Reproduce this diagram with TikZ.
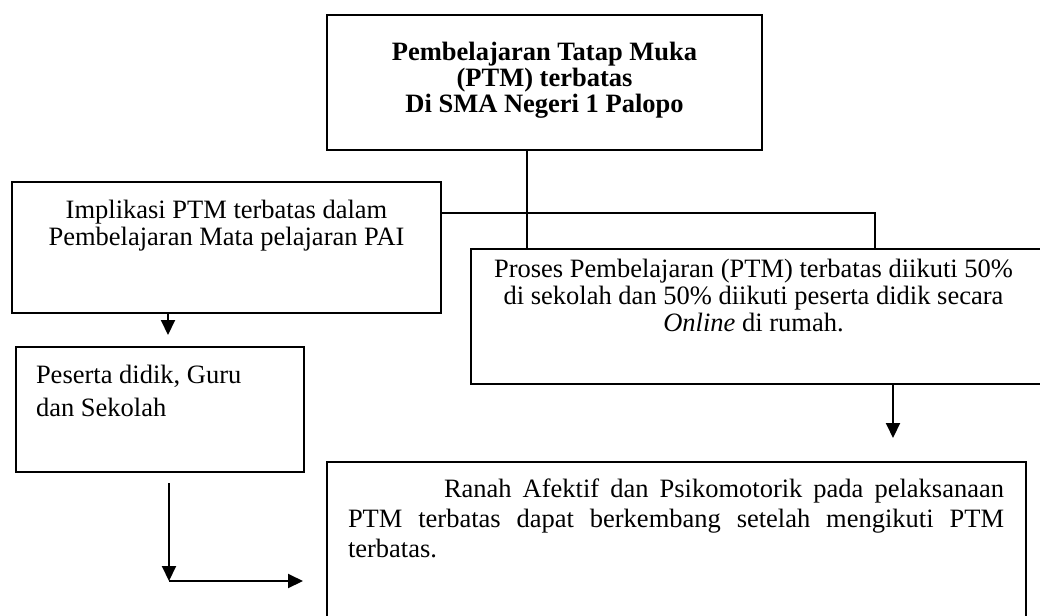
\documentclass[tikz,border=0pt]{standalone}
\usepackage{fontspec}
\setmainfont{Liberation Serif}
\usetikzlibrary{arrows.meta}
\begin{document}
\begin{tikzpicture}[x=1pt,y=-1pt,
  box/.style={draw, line width=2pt, inner sep=0pt, outer sep=0pt, anchor=north west},
  conn/.style={line width=2pt},
  arr/.style={conn, -{Triangle[width=14pt,length=15pt]}},
  txt/.style={inner sep=0pt, outer sep=0pt, font=\fontsize{26.5}{27}\selectfont}]
\useasboundingbox (0,0) rectangle (1040,615);
\clip (0,0) rectangle (1040,615);
% boxes
\node[box, minimum width=435pt, minimum height=135pt] (top) at (327,15) {};
\node[box, minimum width=429pt, minimum height=131pt] (imp) at (12,182) {};
\node[box, minimum width=590pt, minimum height=135pt] (pro) at (471,249) {};
\node[box, minimum width=288pt, minimum height=125pt] (pes) at (16,347) {};
\node[box, minimum width=699pt, minimum height=190pt] (ran) at (327,462) {};
% texts
\node[txt, anchor=north, align=center, font=\fontsize{26.5}{26}\selectfont\bfseries] (toptxt) at (544.5,41)
  {\rule{0pt}{20pt}Pembelajaran Tatap Muka\\(PTM) terbatas\\Di SMA Negeri 1 Palopo};
\node[txt, anchor=north, align=center] (imptxt) at (226.5,198)
  {\rule{0pt}{20pt}Implikasi PTM terbatas dalam\\Pembelajaran Mata pelajaran PAI};
\node[txt, anchor=north, align=center] (protxt) at (753.5,257)
  {\rule{0pt}{20pt}Proses Pembelajaran (PTM) terbatas diikuti 50\%\\di sekolah dan 50\% diikuti peserta didik secara\\\textit{Online} di rumah.};
\node[txt, anchor=north west, align=left, font=\fontsize{26.5}{33}\selectfont] (pestxt) at (36,363)
  {\rule{0pt}{20pt}Peserta didik, Guru\\dan Sekolah};
\node[txt, anchor=north west, text width=656pt, align=justify, font=\fontsize{26.5}{30}\selectfont] (rantxt) at (348,477)
  {\hyphenpenalty=10000\exhyphenpenalty=10000\hspace*{96pt}\rule{0pt}{20pt}Ranah Afektif dan Psikomotorik pada pelaksanaan\linebreak PTM terbatas dapat berkembang setelah mengikuti PTM\linebreak terbatas.};
% connectors
\coordinate (c1) at (527,0);
\draw[conn] (top.south -| c1) -- (pro.north -| c1);
\coordinate (c2) at (875,213);
\draw[conn] (imp.east |- c2) -| (pro.north -| c2);
\coordinate (a1) at (168,335);
\draw[arr] (imp.south -| a1) -- (a1);
\coordinate (a2) at (893,438);
\draw[arr] (pro.south -| a2) -- (a2);
\coordinate (b0) at (169,483);
\coordinate (b1) at (169,581);
\coordinate (b2) at (303,581);
\draw[arr] (b0) -- (b1);
\draw[arr] (b1) -- (b2);
\end{tikzpicture}
\end{document}
